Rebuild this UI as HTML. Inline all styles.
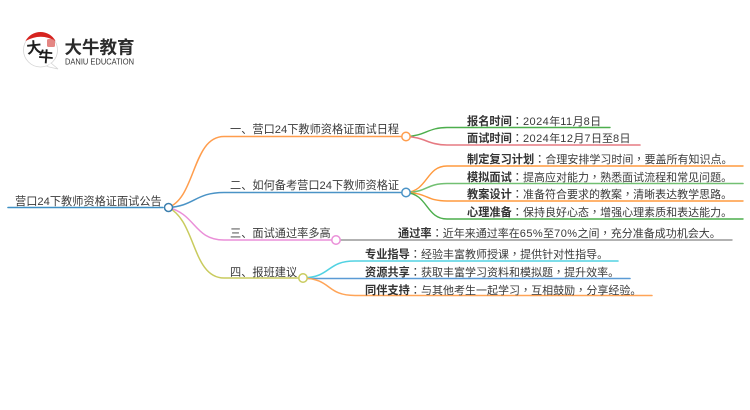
<!DOCTYPE html>
<html><head><meta charset="utf-8"><style>
html,body{margin:0;padding:0;background:#fff;width:750px;height:410px;overflow:hidden}
svg{display:block;filter:blur(.3px)}
text{font-family:"Liberation Sans","Noto Sans CJK SC",sans-serif;font-size:11.2px;fill:#3a3a3a}
.v{font-size:11px}
.b{font-size:11.2px;font-weight:700;fill:#333}
.c{font-family:"Liberation Sans","Noto Sans CJK TC",sans-serif;font-size:11.2px}
.d{letter-spacing:.45px}
path{fill:none;stroke-linecap:round}
circle.n{fill:#fff;stroke-width:1.5}
.br{font-family:"Liberation Sans","Noto Sans CJK SC",sans-serif;font-size:15px;font-weight:700;fill:#1c1c1c}
</style></head><body>
<svg width="750" height="410" viewBox="0 0 750 410" xmlns="http://www.w3.org/2000/svg">
<!-- logo -->
<circle cx="40.5" cy="50" r="17" fill="#fff" stroke="#d4d4d4" stroke-width="0.8"/>
<path d="M25.5 41 A17 17 0 0 1 55.5 41 Q41 32.5 25.5 41Z" style="fill:#d6231f;stroke:none"/>
<path d="M51 63 L58 69 L47 66.5" style="fill:#fff;stroke:#d4d4d4;stroke-width:.8"/>
<rect x="47" y="39" width="8" height="8" rx="1.5" fill="#d9534f" opacity=".7"/>
<text class="br" x="26.5" y="53" transform="rotate(-6 33 47)">大</text>
<text class="br" x="38.5" y="62" transform="rotate(4 45 56)">牛</text>
<text x="64.5" y="53.5" style="font-size:17.5px;font-weight:700;fill:#2b2b2b">大牛教育</text>
<text x="65" y="64.5" textLength="69" lengthAdjust="spacingAndGlyphs" style="font-size:8px;fill:#333">DANIU EDUCATION</text>

<!-- root -->
<path d="M8 207.5H163" stroke="#3d8fc4" stroke-width="1.6"/>
<path d="M168 207.5C196 198 192 136.5 224 136.5H401" stroke="#ff9d4d" stroke-width="1.5"/>
<path d="M168 207.5C195 206 195 192.5 224 192.5H401" stroke="#4a93c6" stroke-width="1.5"/>
<path d="M168 207.5C196 214 194 240 224 240H331" stroke="#ea8fd8" stroke-width="1.5"/>
<path d="M168 207.5C196 220 192 278 224 278H298" stroke="#c9cb5e" stroke-width="1.5"/>

<!-- branch 1 children -->
<path d="M406 136.5C425 136 428 127.5 447 127.5H610" stroke="#4cae4c" stroke-width="1.4"/>
<path d="M406 136.5C425 137 428 145 447 145H640" stroke="#e67a82" stroke-width="1.6"/>
<!-- branch 2 children -->
<path d="M406 192.5C428 191 426 166 447 166H743" stroke="#ff9a3e" stroke-width="1.4"/>
<path d="M406 192.5C428 192 426 183.5 447 183.5H743" stroke="#72c072" stroke-width="1.6"/>
<path d="M406 192.5C428 193 426 201 447 201H743" stroke="#ff9a3e" stroke-width="1.4"/>
<path d="M406 192.5C428 194 426 219 447 219H743" stroke="#4cae4c" stroke-width="1.4"/>
<!-- branch 3 child -->
<path d="M341 240H732" stroke="#999" stroke-width="1.4"/>
<!-- branch 4 children -->
<path d="M303 278C332 277 326 261 355 261H618" stroke="#52d2e2" stroke-width="1.6"/>
<path d="M303 278.5H630" stroke="#5b9bd5" stroke-width="1.6"/>
<path d="M303 278C332 279 326 295.5 355 295.5H652" stroke="#ffa457" stroke-width="1.5"/>

<circle class="n" cx="168.5" cy="207.5" r="4" stroke="#3d7fae"/>
<circle class="n" cx="406" cy="136.5" r="4.2" stroke="#ff9d4d"/>
<circle class="n" cx="406" cy="192.5" r="4.2" stroke="#4a93c6"/>
<circle class="n" cx="336" cy="240" r="4.2" stroke="#ea8fd8"/>
<circle class="n" cx="303" cy="278" r="4.2" stroke="#c9cb5e"/>

<text x="15" y="205">营口24下教师资格证面试公告</text>
<text x="230" y="133">一、营口24下教师资格证面试日程</text>
<text x="230" y="189">二、如何备考营口24下教师资格证</text>
<text x="230" y="237">三、面试通过率多高</text>
<text x="230" y="276">四、报班建议</text>

<text class="v" x="467" y="125"><tspan class="b">报名时间</tspan><tspan class="c">：</tspan><tspan class="d">2024</tspan>年<tspan class="d">11</tspan>月<tspan class="d">8</tspan>日</text>
<text class="v" x="467" y="142"><tspan class="b">面试时间</tspan><tspan class="c">：</tspan><tspan class="d">2024</tspan>年<tspan class="d">12</tspan>月<tspan class="d">7</tspan>日至<tspan class="d">8</tspan>日</text>
<text class="v" x="467" y="163"><tspan class="b">制定复习计划</tspan><tspan class="c">：</tspan>合理安排学习时间<tspan class="c">，</tspan>要盖所有知识点。</text>
<text class="v" x="467" y="181"><tspan class="b">模拟面试</tspan><tspan class="c">：</tspan>提高应对能力<tspan class="c">，</tspan>熟悉面试流程和常见问题。</text>
<text class="v" x="467" y="198"><tspan class="b">教案设计</tspan><tspan class="c">：</tspan>准备符合要求的教案<tspan class="c">，</tspan>清晰表达教学思路。</text>
<text class="v" x="467" y="216"><tspan class="b">心理准备</tspan><tspan class="c">：</tspan>保持良好心态<tspan class="c">，</tspan>增强心理素质和表达能力。</text>
<text class="v" x="398" y="237"><tspan class="b">通过率</tspan><tspan class="c">：</tspan>近年来通过率在<tspan class="d">65%</tspan>至<tspan class="d">70%</tspan>之间<tspan class="c">，</tspan>充分准备成功机会大。</text>
<text class="v" x="365" y="258"><tspan class="b">专业指导</tspan><tspan class="c">：</tspan>经验丰富教师授课<tspan class="c">，</tspan>提供针对性指导。</text>
<text class="v" x="365" y="276"><tspan class="b">资源共享</tspan><tspan class="c">：</tspan>获取丰富学习资料和模拟题<tspan class="c">，</tspan>提升效率。</text>
<text class="v" x="365" y="294"><tspan class="b">同伴支持</tspan><tspan class="c">：</tspan>与其他考生一起学习<tspan class="c">，</tspan>互相鼓励<tspan class="c">，</tspan>分享经验。</text>
</svg>
</body></html>
